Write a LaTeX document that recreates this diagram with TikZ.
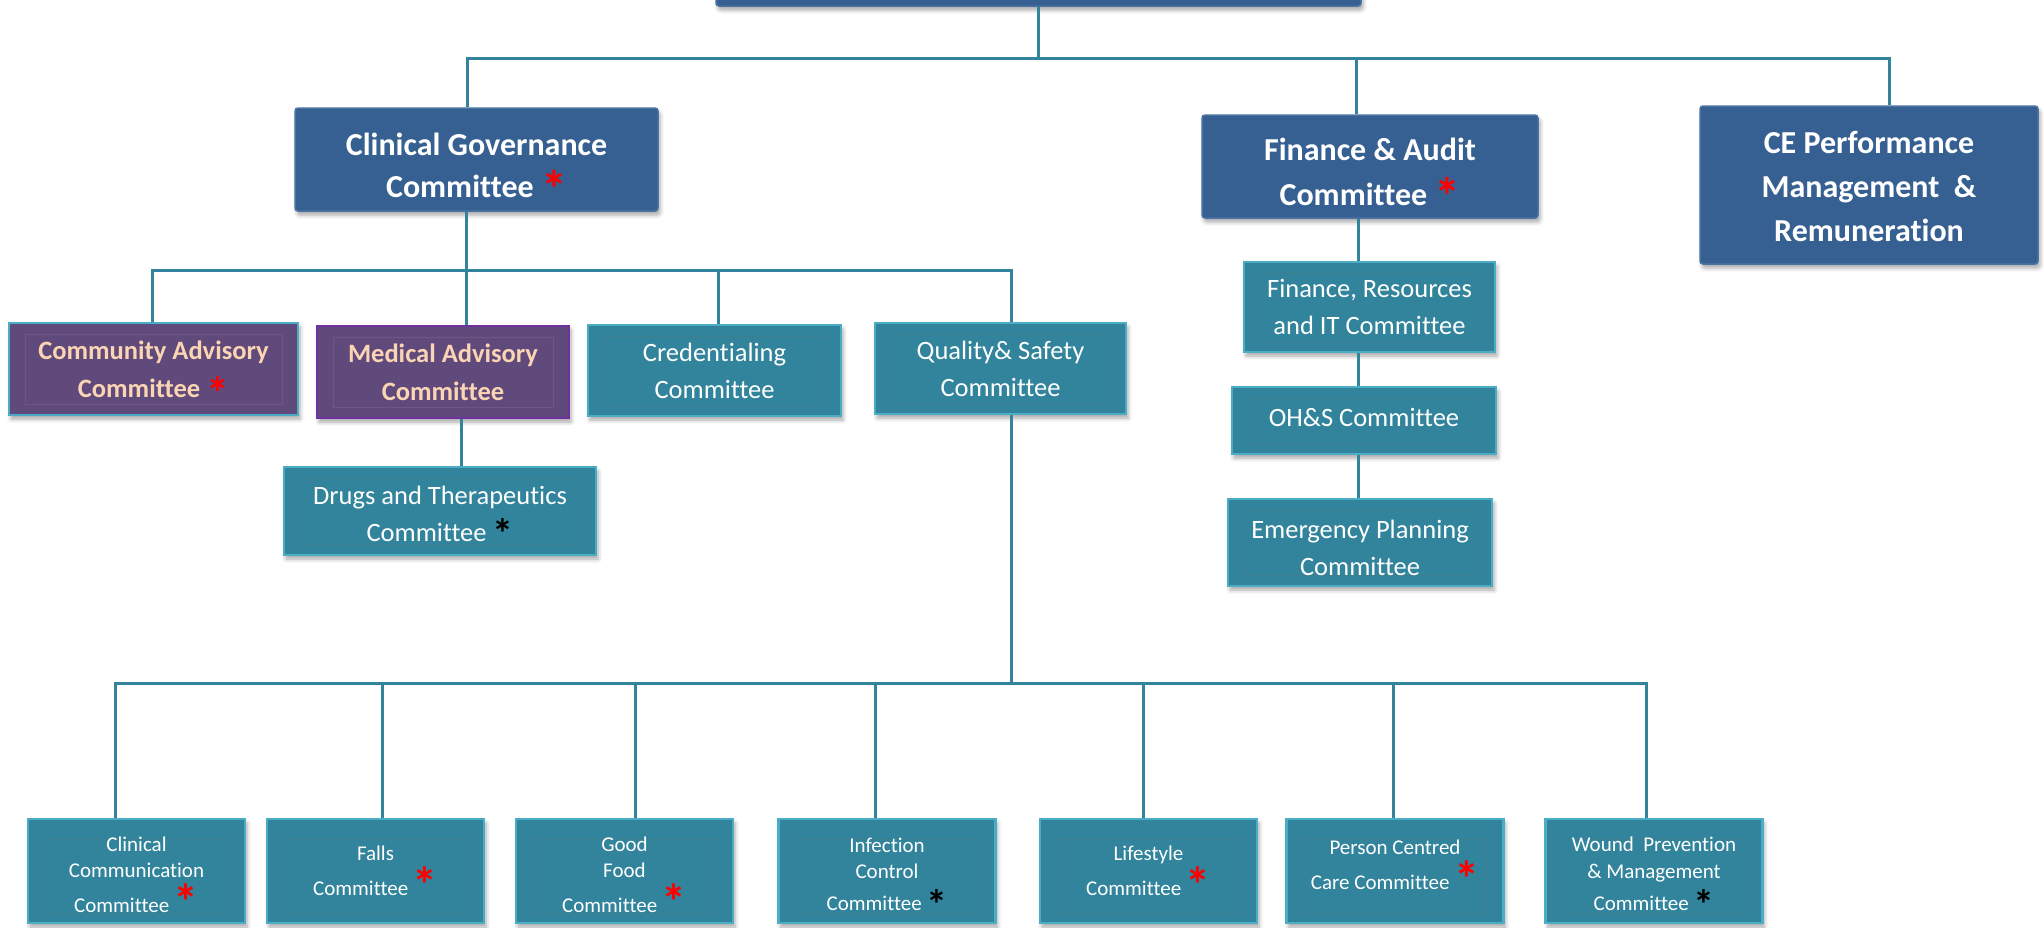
\documentclass[tikz,border=0pt]{standalone}
\usepackage{fontspec}
\setmainfont{Carlito}[Ligatures={NoCommon}]
\usetikzlibrary{shadows.blur}
\definecolor{dblue}{HTML}{376092}
\definecolor{dblueedge}{HTML}{4A72A2}
\definecolor{tealfill}{HTML}{31849B}
\definecolor{tealedge}{HTML}{4BACC6}
\definecolor{tealinner}{HTML}{3D7E90}
\definecolor{purpfill}{HTML}{604A7B}
\definecolor{purpedge}{HTML}{7030A0}
\definecolor{purpinner}{HTML}{6C5786}
\definecolor{peach}{HTML}{FBD4B4}
\definecolor{conncol}{HTML}{31849B}
\newcommand\redast[2]{\smash{\raisebox{-#2}{\fontsize{#1}{#1}\selectfont\bfseries\color{red}*}}}
\newcommand\blkast[2]{\smash{\raisebox{-#2}{\fontsize{#1}{#1}\selectfont\bfseries\color{black}*}}}
\newcommand\upstrut[1]{\rule{0pt}{#1}}
\newcommand\dnstrut[1]{\rule[-#1]{0pt}{#1}}
\tikzset{
  box/.style={rectangle, inner sep=0pt, align=center,
    blur shadow={shadow xshift=2pt, shadow yshift=-4pt, shadow blur radius=4pt, shadow opacity=35}},
  inner frame/.style={path picture={\draw[line width=0.8pt, draw=#1]
    ([shift={(16pt,-11pt)}]path picture bounding box.north west) rectangle
    ([shift={(-16pt,11pt)}]path picture bounding box.south east);}},
  topbox/.style={box, rounded corners=3pt, fill=dblue, draw=dblueedge, line width=1.5pt, text=white,
    font=\fontsize{32}{45}\selectfont\bfseries},
  tealbox/.style={box, fill=tealfill, draw=tealedge, line width=2.5pt, text=white,
    font=\fontsize{26.5}{37}\selectfont, inner frame=tealinner},
  purpbox/.style={box, fill=purpfill, draw=tealedge, line width=2.5pt, text=peach,
    font=\fontsize{26.5}{38}\selectfont\bfseries, inner frame=purpinner},
  smallbox/.style={box, fill=tealfill, draw=tealedge, line width=2.5pt, text=white,
    font=\fontsize{21}{26}\selectfont, minimum width=217pt, minimum height=104pt,
    path picture={\draw[line width=0.8pt, draw=tealinner]
    ([shift={(17pt,-20pt)}]path picture bounding box.north west) rectangle
    ([shift={(-17pt,10pt)}]path picture bounding box.south east);}},
  conn/.style={draw=conncol, line width=3pt},
}
\begin{document}
\begin{tikzpicture}[x=1pt,y=-1pt]
\useasboundingbox (0,0) rectangle (2044,927);
% level 0 / 1
\node[topbox, minimum width=645pt, minimum height=30pt] (top) at (1038.5,-9) {};
\node[topbox, minimum width=363pt, minimum height=103pt] (cg) at (476.5,159.5)
  {\upstrut{34pt}Clinical Governance\\[-3pt]Committee \redast{52}{10pt}};
\node[topbox, minimum width=336pt, minimum height=103pt] (fa) at (1370,166.5)
  {\upstrut{33pt}Finance \& Audit\\Committee \redast{52}{9pt}};
\node[topbox, minimum width=338pt, minimum height=158pt] (ce) at (1869,185)
  {\upstrut{26pt}CE Performance\\[-1pt]Management \ \&\\[-1pt]Remuneration};
% level 2
\node[purpbox, minimum width=289pt, minimum height=92pt] (cac) at (153.5,369)
  {Community Advisory\\Committee \redast{46}{12pt}};
\node[purpbox, draw=purpedge, minimum width=252pt, minimum height=92pt] (mac) at (443,372)
  {Medical Advisory\\Committee};
\node[tealbox, minimum width=253pt, minimum height=91pt] (cred) at (714.5,370.5)
  {Credentialing\\Committee};
\node[tealbox, minimum width=251pt, minimum height=91pt] (qs) at (1000.5,368.5)
  {Quality\& Safety\\Committee};
\node[tealbox, minimum width=312pt, minimum height=88pt] (dtc) at (440,511)
  {\upstrut{24.5pt}Drugs and Therapeutics\\Committee \blkast{42}{6.5pt}};
% finance column
\node[tealbox, minimum width=251pt, minimum height=90pt] (fr) at (1369.5,307)
  {Finance, Resources\\and IT Committee};
\node[tealbox, minimum width=264pt, minimum height=67pt, text depth=6pt] (ohs) at (1364,420.5)
  {OH\&S Committee};
\node[tealbox, minimum width=264pt, minimum height=87pt] (epc) at (1360,542.5)
  {\upstrut{28.5pt}Emergency Planning\\Committee};
% bottom row
\node[smallbox] (cc) at (136.5,871) {\upstrut{22.7pt}Clinical\\Communication\\[9pt]Committee \redast{50}{7pt}};
\node[smallbox] (fal) at (375.5,871) {Falls\\[9pt]Committee \redast{50}{7pt}};
\node[smallbox] (gf) at (624.5,871) {\upstrut{22.5pt}Good\\Food\\[9pt]Committee \redast{50}{7pt}};
\node[smallbox] (ic) at (887,871) {\upstrut{21.5pt}Infection\\Control\\[6pt]Committee \blkast{42}{9pt}};
\node[smallbox] (ls) at (1148.5,871) {Lifestyle\\[9pt]Committee \redast{50}{7pt}};
\node[smallbox] (pcc) at (1395,871) {Person Centred\\[9pt]Care Committee \redast{50}{7pt}\dnstrut{12pt}};
\node[smallbox] (wpm) at (1654,871) {\upstrut{20pt}Wound \ Prevention\\[1pt]\& Management\\[6pt]Committee \blkast{42}{9pt}};
% connectors
\coordinate (b1l) at (467,58);
\coordinate (b1r) at (1889,58);
\coordinate (b1f) at (1356,58);
\draw[conn] (top.south) -- (top.south |- b1l);
\draw[conn] (cg.north -| b1l) -- (b1l) -- (b1r) -- (ce.north -| b1r);
\draw[conn] (b1f) -- (fa.north -| b1f);
\coordinate (cf) at (1358,0);
\draw[conn] (fa.south -| cf) -- (fr.north -| cf);
\draw[conn] (fr.south -| cf) -- (ohs.north -| cf);
\draw[conn] (ohs.south -| cf) -- (epc.north -| cf);
\coordinate (b2l) at (152,270);
\coordinate (b2r) at (1011,270);
\coordinate (b2c) at (466,270);
\coordinate (b2k) at (718,270);
\draw[conn] (cg.south -| b2c) -- (b2c);
\draw[conn] (cac.north -| b2l) -- (b2l) -- (b2r) -- (qs.north -| b2r);
\draw[conn] (b2c) -- (mac.north -| b2c);
\draw[conn] (b2k) -- (cred.north -| b2k);
\coordinate (cm) at (461,0);
\draw[conn] (mac.south -| cm) -- (dtc.north -| cm);
\coordinate (b3l) at (115,683);
\coordinate (b3r) at (1646,683);
\draw[conn] (qs.south -| b2r) -- (b2r |- b3l);
\draw[conn] (cc.north -| b3l) -- (b3l) -- (b3r) -- (wpm.north -| b3r);
\foreach \n/\x in {fal/382,gf/635,ic/875,ls/1143,pcc/1393}{
  \coordinate (s\n) at (\x,683);
  \draw[conn] (s\n) -- (\n.north -| s\n);
}
\end{tikzpicture}
\end{document}
